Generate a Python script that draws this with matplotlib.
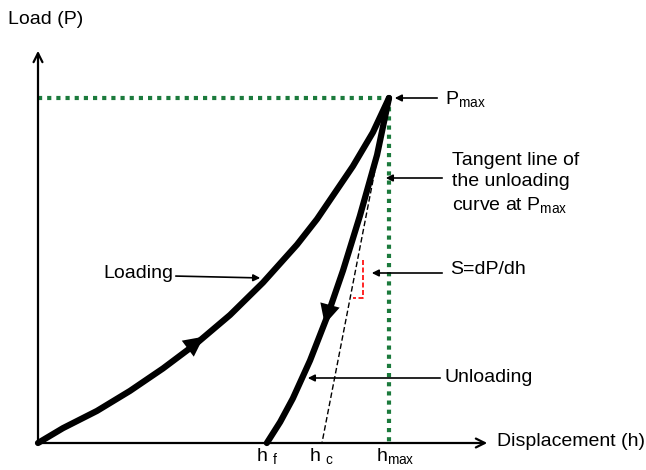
import matplotlib.pyplot as plt

plt.rcParams['font.family'] = ['Liberation Sans', 'DejaVu Sans']

# schematic load-displacement curve, normalised so h_max = 1, P_max = 1
h_f = 0.652
h_c = 0.809
h_max = 1.0
p_max = 1.0

loading_h = [0.0, 0.071, 0.168, 0.262, 0.356, 0.453, 0.547, 0.641, 0.738, 0.795, 0.897, 0.954, 1.0]
loading_p = [0.0, 0.043, 0.093, 0.151, 0.216, 0.290, 0.371, 0.465, 0.575, 0.649, 0.802, 0.900, 1.0]

unloading_h = [1.0, 0.966, 0.917, 0.869, 0.823, 0.775, 0.726, 0.69, 0.652]
unloading_p = [1.0, 0.835, 0.658, 0.500, 0.364, 0.239, 0.129, 0.061, 0.0]

tangent_h = [h_max, h_c]
tangent_p = [p_max, 0.0]

# slope marker (red)
slope_h = [0.925, 0.925, 0.898]
slope_p = [0.530, 0.420, 0.420]

tick_pos = [h_f, h_c, h_max]
tick_text = ['h $_{\\mathregular{f}}$', 'h $_{\\mathregular{c}}$', 'h$_{\\mathregular{max}}$']
tick_shift = [0, 0, 6]

fig = plt.figure(figsize=(6.46, 4.70), dpi=100)
ax = fig.add_axes([0, 0, 1, 1])
ax.set_xlim(-38 / 351, 608 / 351)
ax.set_ylim(-27 / 345, 443 / 345)
ax.axis('off')


def px(x, y):
    # picture pixel -> data position (for label placement)
    return (x - 38) / 351, (443 - y) / 345


fs = 14

# axes with arrows
ax.annotate('', xy=px(490, 443), xytext=(0, 0),
            arrowprops=dict(arrowstyle='->', lw=1.6, color='black', mutation_scale=16))
ax.annotate('', xy=px(38, 48), xytext=(0, 0),
            arrowprops=dict(arrowstyle='->', lw=1.6, color='black', mutation_scale=16))
ax.text(*px(8, 20), 'Load (P)', fontsize=fs, ha='left', va='center')
ax.text(*px(497, 442), 'Displacement (h)', fontsize=fs, ha='left', va='center')

# green dotted guides
green = '#1b7a3c'
ax.plot([0, h_max], [p_max, p_max], color=green, lw=3, ls=(0, (1, 1.2)))
ax.plot([h_max, h_max], [p_max, 0], color=green, lw=3, ls=(0, (1, 1.2)))

# curves
ax.plot(loading_h, loading_p, color='black', lw=4.5, solid_capstyle='round',
        solid_joinstyle='round')
ax.plot(unloading_h, unloading_p, color='black', lw=4.5, solid_capstyle='round',
        solid_joinstyle='round')
ax.plot(tangent_h, tangent_p, color='black', lw=1, ls=(0, (4, 2)))
ax.plot(slope_h, slope_p, color='red', lw=1.2, ls=(0, (3, 1.5)))

# direction arrows on the curves
head = '-|>,head_length=0.6,head_width=0.3'
ax.annotate('', xy=px(206, 335), xytext=px(186, 350),
            arrowprops=dict(arrowstyle=head, color='black', lw=0, mutation_scale=24))
ax.annotate('', xy=px(324, 327), xytext=px(330, 305),
            arrowprops=dict(arrowstyle=head, color='black', lw=0, mutation_scale=24))

# labels with pointer arrows
arrow_kw = dict(arrowstyle='-|>', lw=1.2, color='black', mutation_scale=10)
ax.annotate('', xy=px(392, 98), xytext=px(440, 98), arrowprops=arrow_kw)
ax.text(*px(445, 100), 'P$_{\\mathregular{max}}$', fontsize=fs, ha='left', va='center')

ax.annotate('', xy=px(383, 178), xytext=px(445, 178), arrowprops=arrow_kw)
ax.text(*px(452, 184), 'Tangent line of\nthe unloading\ncurve at P$_{\\mathregular{max}}$',
        fontsize=fs, ha='left', va='center', linespacing=1.35)

ax.annotate('', xy=px(369, 273), xytext=px(445, 273), arrowprops=arrow_kw)
ax.text(*px(450, 270), 'S=dP/dh', fontsize=fs, ha='left', va='center')

ax.annotate('', xy=px(263, 278), xytext=px(173, 276), arrowprops=arrow_kw)
ax.text(*px(103, 273), 'Loading', fontsize=fs, ha='left', va='center')

ax.annotate('', xy=px(305, 378), xytext=px(443, 378), arrowprops=arrow_kw)
ax.text(*px(444, 377), 'Unloading', fontsize=fs, ha='left', va='center')

for x, t, dx in zip(tick_pos, tick_text, tick_shift):
    ax.text(x + dx / 351, px(0, 457)[1], t, fontsize=fs, ha='center', va='center')

fig.savefig('out.png', dpi=100)
